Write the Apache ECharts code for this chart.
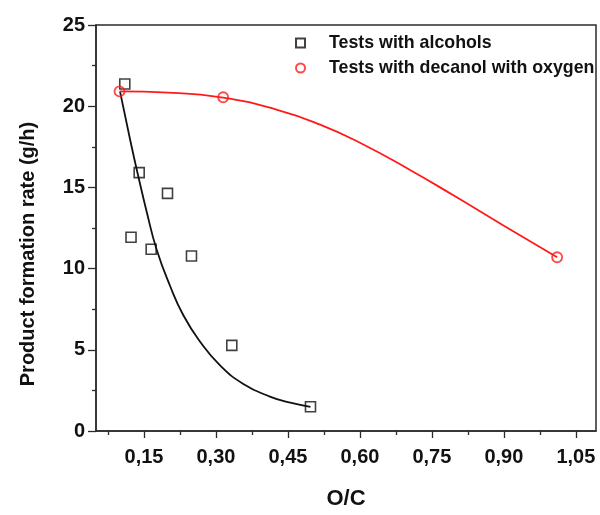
<!DOCTYPE html>
<html>
<head>
<meta charset="utf-8">
<title>Product formation rate vs O/C</title>
<script src="https://cdn.jsdelivr.net/npm/echarts@6/dist/echarts.min.js"></script>
<style>
  html, body { margin: 0; padding: 0; background: #fff; }
  #chart { width: 600px; height: 515px; }
</style>
</head>
<body>
<div id="chart"></div>
<script>
// Measured tests: O/C ratio vs product formation rate (g/h)
const alcoholsOC   = [0.110, 0.140, 0.199, 0.123, 0.165, 0.249, 0.333, 0.497];
const alcoholsRate = [21.37, 15.91, 14.63, 11.93, 11.19, 10.78, 5.27, 1.49];

const decanolOC   = [0.099, 0.315, 1.011];
const decanolRate = [20.91, 20.55, 10.70];

// Trend curves traced through each data set
const alcoholsFitOC   = [0.100, 0.121, 0.138, 0.156, 0.176, 0.204, 0.232, 0.267, 0.308, 0.357, 0.4125, 0.455, 0.497];
const alcoholsFitRate = [20.91, 17.95, 15.70, 13.46, 11.21, 8.96, 7.13, 5.50, 4.06, 2.90, 2.12, 1.74, 1.49];

const decanolFitOC   = [0.100, 0.200, 0.315, 0.426, 0.517, 0.600, 0.700, 0.800, 0.900, 1.011];
const decanolFitRate = [20.91, 20.84, 20.53, 19.79, 18.87, 17.75, 16.15, 14.42, 12.64, 10.70];

// Axis ticks
const xMajorTicks = [0.15, 0.30, 0.45, 0.60, 0.75, 0.90, 1.05];
const xMinorTicks = [0.075, 0.225, 0.375, 0.525, 0.675, 0.825, 0.975];

const seriesNames = ['Tests with alcohols', 'Tests with decanol with oxygen'];

const pairs = (xs, ys) => xs.map((x, i) => [x, ys[i]]);

const FONT = '"Liberation Sans", Arial, sans-serif';
const AXIS_COLOR = '#2b2b2b';

const chart = echarts.init(document.getElementById('chart'), null, { renderer: 'canvas' });

const xCommon = { type: 'value', min: 0.05, max: 1.092, splitLine: { show: false } };

chart.setOption({
  backgroundColor: '#fff',
  animation: false,
  grid: {
    left: 96, right: 4, top: 25, bottom: 82,
    show: true, borderColor: AXIS_COLOR, borderWidth: 1.5, backgroundColor: 'transparent'
  },
  legend: {
    data: seriesNames,
    orient: 'vertical',
    left: 290, top: 29,
    itemWidth: 9, itemHeight: 9, itemGap: 7,
    textStyle: { fontFamily: FONT, fontWeight: 'bold', fontSize: 17.8, color: '#111', padding: [0, 0, 0, 19] }
  },
  xAxis: [
    Object.assign({}, xCommon, {
      axisLine: { show: true, lineStyle: { color: AXIS_COLOR, width: 1.5 } },
      axisTick: { show: true, length: 7, customValues: xMajorTicks, lineStyle: { color: AXIS_COLOR, width: 1.3 } },
      axisLabel: {
        customValues: xMajorTicks,
        margin: 16,
        fontFamily: FONT, fontWeight: 'bold', fontSize: 20, color: '#111',
        formatter: v => v.toFixed(2).replace('.', ',')
      },
      name: 'O/C',
      nameLocation: 'middle',
      nameGap: 57,
      nameTextStyle: { fontFamily: FONT, fontWeight: 'bold', fontSize: 22, color: '#111' }
    }),
    Object.assign({}, xCommon, {
      position: 'bottom',
      axisLine: { show: false },
      axisTick: { show: true, length: 4, customValues: xMinorTicks, lineStyle: { color: AXIS_COLOR, width: 1.3 } },
      axisLabel: { show: false }
    })
  ],
  yAxis: {
    type: 'value',
    min: 0, max: 25, interval: 5,
    splitLine: { show: false },
    axisLine: { show: true, lineStyle: { color: AXIS_COLOR, width: 1.5 } },
    axisTick: { show: true, length: 8, lineStyle: { color: AXIS_COLOR, width: 1.3 } },
    minorTick: { show: true, splitNumber: 2, length: 4, lineStyle: { color: AXIS_COLOR, width: 1.3 } },
    axisLabel: { margin: 11, fontFamily: FONT, fontWeight: 'bold', fontSize: 20, color: '#111' }
  },
  graphic: [{
    type: 'text',
    x: 28, y: 254,
    rotation: Math.PI / 2,
    style: {
      text: 'Product formation rate (g/h)',
      fontFamily: FONT, fontWeight: 'bold', fontSize: 20, fill: '#111',
      align: 'center', verticalAlign: 'middle'
    }
  }],
  series: [
    {
      name: 'alcohols trend',
      type: 'line',
      data: pairs(alcoholsFitOC, alcoholsFitRate),
      smooth: 0.5,
      showSymbol: false,
      lineStyle: { color: '#111', width: 1.8 },
      z: 2
    },
    {
      name: 'decanol trend',
      type: 'line',
      data: pairs(decanolFitOC, decanolFitRate),
      smooth: 0.5,
      showSymbol: false,
      lineStyle: { color: '#ff1a1a', width: 1.8 },
      z: 2
    },
    {
      name: seriesNames[0],
      type: 'scatter',
      data: pairs(alcoholsOC, alcoholsRate),
      symbol: 'rect',
      symbolSize: 10,
      itemStyle: { color: 'rgba(255,255,255,0)', borderColor: '#111', borderWidth: 1.6 },
      z: 3
    },
    {
      name: seriesNames[1],
      type: 'scatter',
      data: pairs(decanolOC, decanolRate),
      symbol: 'circle',
      symbolSize: 10,
      itemStyle: { color: 'rgba(255,255,255,0)', borderColor: '#ff1a1a', borderWidth: 1.8 },
      z: 4
    }
  ]
});
</script>
</body>
</html>
